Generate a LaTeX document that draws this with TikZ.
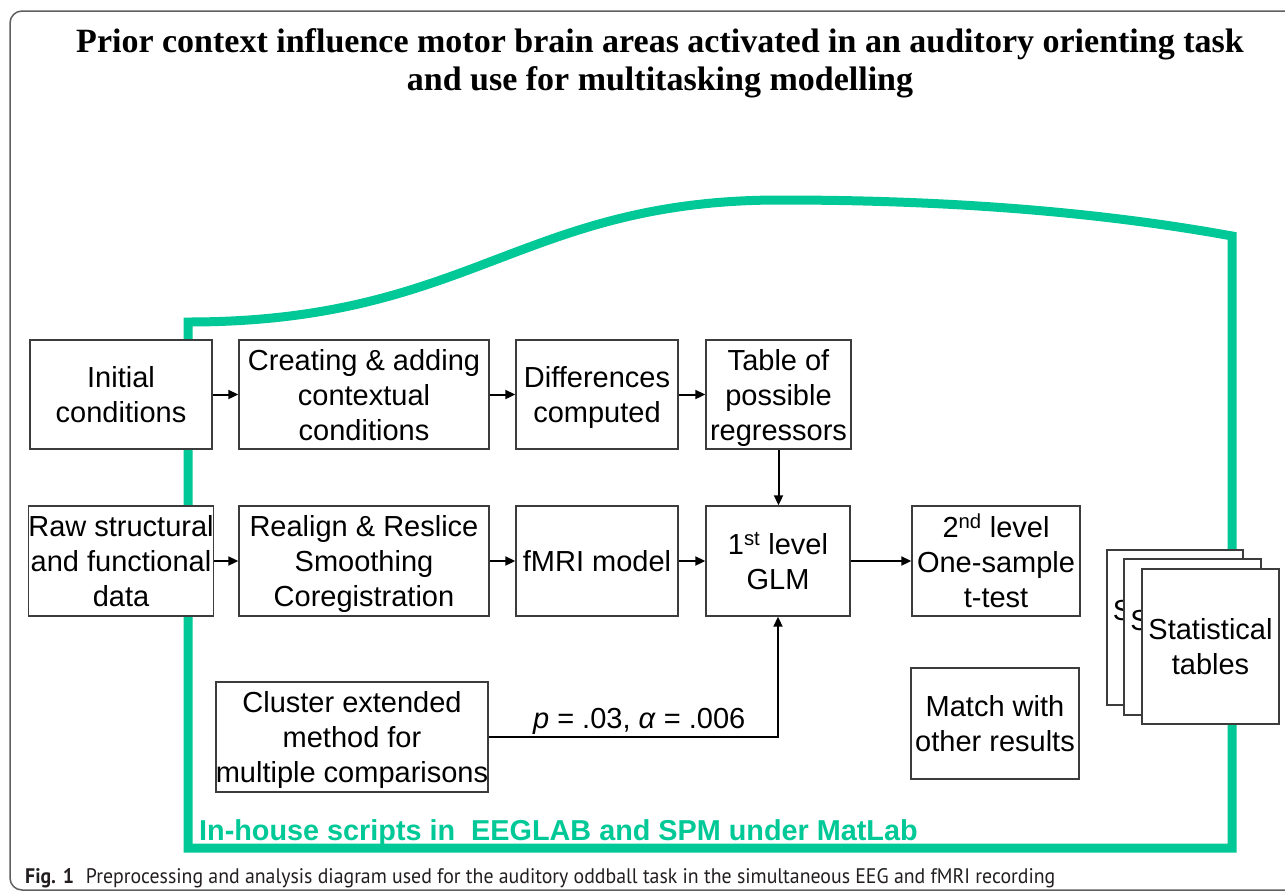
\documentclass[tikz,border=0pt]{standalone}
\usepackage{fontspec}
\setmainfont{Liberation Serif}
\setsansfont{Liberation Sans}
\newfontfamily\capfont{PT Sans}
\usepackage{graphicx}
\usetikzlibrary{arrows.meta}
\definecolor{grn}{RGB}{0,200,150}
\definecolor{frm}{RGB}{95,95,95}
\definecolor{bxd}{RGB}{60,60,60}
\definecolor{captxt}{RGB}{35,31,32}
\begin{document}
\begin{tikzpicture}[x=1pt,y=-1pt,
  box/.style={draw=bxd, line width=1.4pt, fill=white, align=center, inner sep=0pt, text depth=0pt,
    font=\sffamily\fontsize{29}{35}\selectfont},
  conn/.style={line width=2pt, -{Triangle[length=10pt,width=9pt]}},
  lbl/.style={font=\sffamily\fontsize{29}{35}\selectfont, inner sep=0pt},
  ]
\useasboundingbox (0,0) rectangle (1285,892);
\fill[white] (0,0) rectangle (1285,892);
% outer frame
\draw[frm, line width=1.5pt, rounded corners=12pt] (1300,11) -- (10,11) -- (10,890) -- (1300,890);
% title
\node[font=\bfseries\fontsize{34}{38}\selectfont, align=center, inner sep=0pt] (title) at (660,63)
  {Prior context influence motor brain areas activated in an auditory orienting task\\and use for multitasking modelling};
% green region
\draw[grn, line width=9pt, line join=miter] (1232,848) -- (188,848) -- (188,322)
  .. controls (470,322) and (520,200) .. (780,200)
  .. controls (950,200) and (1100,212) .. (1232,236) -- cycle;
\node[anchor=base west, inner sep=0pt, text=grn, font=\sffamily\bfseries\fontsize{28.8}{34}\selectfont] (scripts) at (199,840)
  {In-house scripts in~~EEGLAB and SPM under MatLab};
% row 1
\node[box, minimum width=182pt, minimum height=109pt] (init) at (121,394.5) {Initial\\conditions};
\node[box, minimum width=250pt, minimum height=109pt] (create) at (364,394.5) {Creating \& adding\\contextual\\conditions};
\node[box, minimum width=162pt, minimum height=109pt] (diff) at (597,394.5) {Differences\\computed};
\node[box, minimum width=145pt, minimum height=109pt] (table) at (778.5,394.5) {Table of\\possible\\regressors};
% row 2
\node[box, minimum width=182pt, minimum height=110pt] (raw) at (121,561) {Raw structural\\and functional\\data};
\node[box, minimum width=250pt, minimum height=110pt] (realign) at (364,561) {Realign \& Reslice\\Smoothing\\Coregistration};
\node[box, minimum width=162pt, minimum height=110pt] (fmri) at (597,561) {fMRI model};
\node[box, minimum width=144pt, minimum height=110pt] (glm) at (778,561) {1\textsuperscript{st} level\\GLM};
\node[box, minimum width=168pt, minimum height=110pt] (second) at (996,561) {2\textsuperscript{nd} level\\One-sample\\t-test};
% lower
\node[box, minimum width=272pt, minimum height=110pt] (cluster) at (352,737) {Cluster extended\\method for\\multiple comparisons};
\node[box, minimum width=168pt, minimum height=111pt] (match) at (995,723.5) {Match with\\other results};
% statistical tables stack
\node[box, minimum width=136pt, minimum height=155pt] (st1) at (1175,627.5) {Statistical\\tables};
\node[box, minimum width=137pt, minimum height=156pt] (st2) at (1192.5,637) {Statistical\\tables};
\node[box, minimum width=137pt, minimum height=155pt] (st3) at (1210.5,646.5) {Statistical\\tables};
% connectors
\draw[conn] (init.east) -- (create.west);
\draw[conn] (create.east) -- (diff.west);
\draw[conn] (diff.east) -- (table.west);
\draw[conn] (raw.east) -- (realign.west);
\draw[conn] (realign.east) -- (fmri.west);
\draw[conn] (fmri.east) -- (glm.west);
\draw[conn] (glm.east) -- (second.west);
\draw[conn] (table.south) -- (table.south |- glm.north);
\draw[conn] (cluster.east) -| node[lbl, pos=0.26, above=1.5pt] (plabel) {\textit{p} = .03, \textit{α} = .006} (glm.south);
% caption
\node[anchor=base west, inner sep=0pt, text=captxt] (caption) at (25,883)
  {\resizebox{1030pt}{15pt}{\capfont\fontsize{20}{24}\selectfont\textbf{Fig. 1}\hspace{0.6em}Preprocessing and analysis diagram used for the auditory oddball task in the simultaneous EEG and fMRI recording}};
\end{tikzpicture}
\end{document}
